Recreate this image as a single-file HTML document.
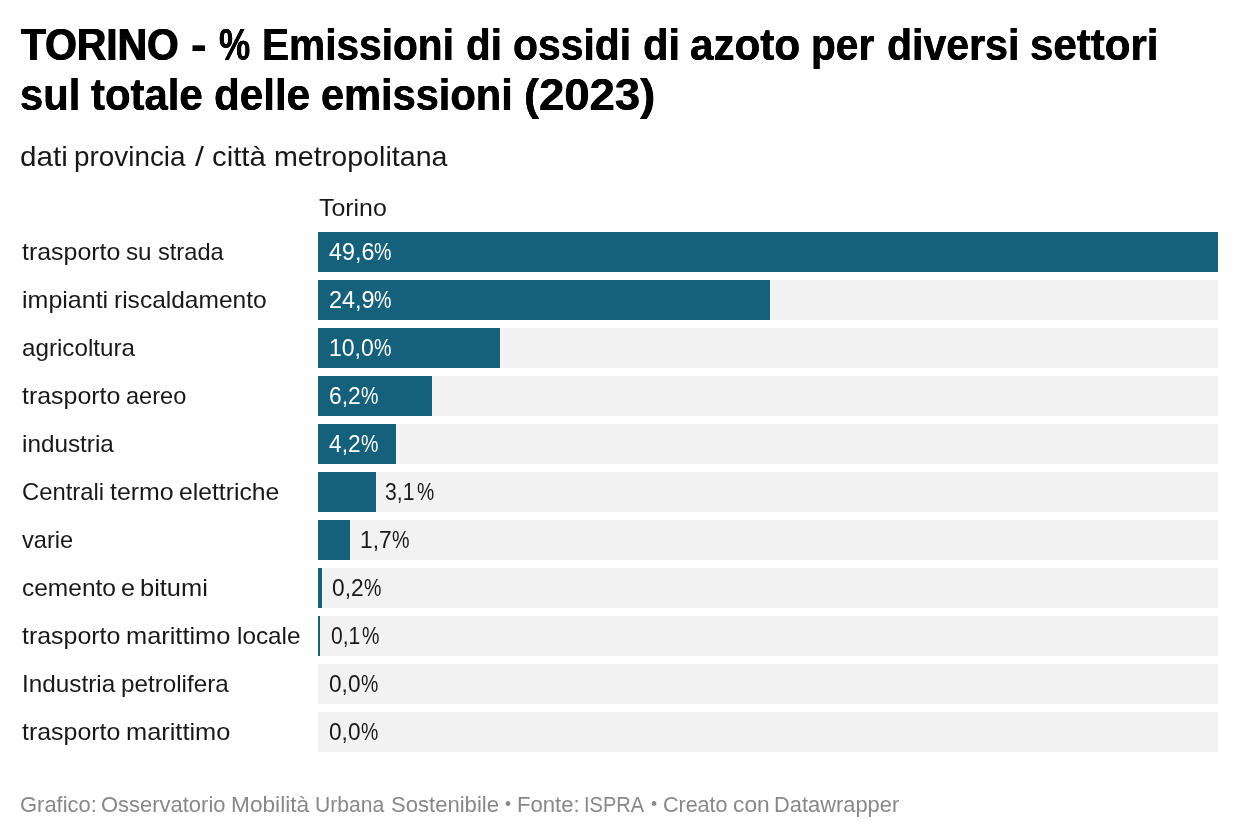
<!DOCTYPE html>
<html lang="it"><head><meta charset="utf-8"><title>TORINO - % Emissioni di ossidi di azoto per diversi settori</title>
<style>
html,body{margin:0;padding:0;background:#fff;}
h1{margin:0;font-size:inherit;font-weight:inherit;}
body{width:1240px;height:838px;position:relative;overflow:hidden;font-family:"Liberation Sans",sans-serif;}
.l{position:absolute;left:0;width:1240px;white-space:nowrap;margin:0;font-weight:400;}
.l span{position:absolute;top:0;transform-origin:0 50%;display:block;}
.bg{position:absolute;left:318px;width:900px;height:40px;background:#f2f2f2;}
.bar{position:absolute;left:0;top:0;height:40px;background:#15607a;}
</style></head><body>

<h1><div class="l" id="title1" style="top:18.41px;height:54px;font-size:45px;line-height:54px;color:#000;font-weight:700;"><span style="left:21.19px;text-shadow:0.6px 0 0 currentColor,-0.6px 0 0 currentColor;transform:scaleX(0.9059)">TORINO</span> <span style="left:190.98px;text-shadow:0.3px 0 0 currentColor,-0.3px 0 0 currentColor;transform:scaleX(1.0394)">-</span> <span style="left:219.07px;text-shadow:0.3px 0 0 currentColor,-0.3px 0 0 currentColor;transform:scaleX(0.7800)">%</span> <span style="left:261.85px;text-shadow:0.3px 0 0 currentColor,-0.3px 0 0 currentColor;transform:scaleX(0.9030)">Emissioni</span> <span style="left:466.41px;text-shadow:0.3px 0 0 currentColor,-0.3px 0 0 currentColor;transform:scaleX(0.8971)">di</span> <span style="left:513.48px;text-shadow:0.3px 0 0 currentColor,-0.3px 0 0 currentColor;transform:scaleX(0.9086)">ossidi</span> <span style="left:642.57px;text-shadow:0.3px 0 0 currentColor,-0.3px 0 0 currentColor;transform:scaleX(0.9252)">di</span> <span style="left:690.05px;text-shadow:0.3px 0 0 currentColor,-0.3px 0 0 currentColor;transform:scaleX(0.9373)">azoto</span> <span style="left:810.59px;text-shadow:0.3px 0 0 currentColor,-0.3px 0 0 currentColor;transform:scaleX(0.9033)">per</span> <span style="left:887.19px;text-shadow:0.3px 0 0 currentColor,-0.3px 0 0 currentColor;transform:scaleX(0.9122)">diversi</span> <span style="left:1029.6px;text-shadow:0.3px 0 0 currentColor,-0.3px 0 0 currentColor;transform:scaleX(0.9343)">settori</span></div>
<div class="l" id="title2" style="top:68.41px;height:54px;font-size:45px;line-height:54px;color:#000;font-weight:700;"><span style="left:19.81px;text-shadow:0.3px 0 0 currentColor,-0.3px 0 0 currentColor;transform:scaleX(0.9269)">sul</span> <span style="left:91.07px;text-shadow:0.3px 0 0 currentColor,-0.3px 0 0 currentColor;transform:scaleX(0.9306)">totale</span> <span style="left:214.15px;text-shadow:0.3px 0 0 currentColor,-0.3px 0 0 currentColor;transform:scaleX(0.9372)">delle</span> <span style="left:320.55px;text-shadow:0.3px 0 0 currentColor,-0.3px 0 0 currentColor;transform:scaleX(0.9236)">emissioni</span> <span style="left:523.74px;text-shadow:0.3px 0 0 currentColor,-0.3px 0 0 currentColor;transform:scaleX(1.0088)">(2023)</span></div></h1>
<p class="l" id="sub" style="top:140.3px;height:34px;font-size:28px;line-height:34px;color:#181818;"><span style="left:19.66px;transform:scaleX(1.0575)">dati</span> <span style="left:73.8px;transform:scaleX(0.9950)">provincia</span> <span style="left:195.23px;transform:scaleX(1.1500)">/</span> <span style="left:212.45px;transform:scaleX(1.0486)">città</span> <span style="left:273.8px;transform:scaleX(1.0227)">metropolitana</span></p>
<div class="l" id="head" style="top:193.18px;height:29px;font-size:24px;line-height:29px;color:#181818;"><span style="left:319.04px;transform:scaleX(1.0373)">Torino</span></div>
<div class="bg" style="top:232px"><div class="bar" style="width:900px"></div></div>
<div class="l" id="lab0" style="top:237.18px;height:29px;font-size:24px;line-height:29px;color:#181818;"><span style="left:21.72px;transform:scaleX(1.0381)">trasporto</span> <span style="left:126.23px;transform:scaleX(1.0093)">su</span> <span style="left:158.04px;transform:scaleX(0.9843)">strada</span></div>
<div class="l" id="val0" style="top:237.41px;height:30px;font-size:24.8px;line-height:30px;color:#fff;"><span style="left:328.67px;transform:scaleX(0.9397)">49,6</span><span style="left:374.2px;transform:scaleX(0.7888)">%</span></div>
<div class="bg" style="top:280px"><div class="bar" style="width:452px"></div></div>
<div class="l" id="lab1" style="top:285.18px;height:29px;font-size:24px;line-height:29px;color:#181818;"><span style="left:22.03px;transform:scaleX(1.0418)">impianti</span> <span style="left:113.97px;transform:scaleX(1.0218)">riscaldamento</span></div>
<div class="l" id="val1" style="top:285.41px;height:30px;font-size:24.8px;line-height:30px;color:#fff;"><span style="left:328.52px;transform:scaleX(0.9445)">24,9</span><span style="left:374.2px;transform:scaleX(0.7888)">%</span></div>
<div class="bg" style="top:328px"><div class="bar" style="width:182px"></div></div>
<div class="l" id="lab2" style="top:333.18px;height:29px;font-size:24px;line-height:29px;color:#181818;"><span style="left:21.97px;transform:scaleX(1.0078)">agricoltura</span></div>
<div class="l" id="val2" style="top:333.41px;height:30px;font-size:24.8px;line-height:30px;color:#fff;"><span style="left:329.15px;transform:scaleX(0.9271)">10,0</span><span style="left:374.2px;transform:scaleX(0.7888)">%</span></div>
<div class="bg" style="top:376px"><div class="bar" style="width:114px"></div></div>
<div class="l" id="lab3" style="top:381.18px;height:29px;font-size:24px;line-height:29px;color:#181818;"><span style="left:21.72px;transform:scaleX(1.0381)">trasporto</span> <span style="left:126px;transform:scaleX(0.9822)">aereo</span></div>
<div class="l" id="val3" style="top:381.41px;height:30px;font-size:24.8px;line-height:30px;color:#fff;"><span style="left:328.74px;transform:scaleX(0.9196)">6,2</span><span style="left:360.7px;transform:scaleX(0.7888)">%</span></div>
<div class="bg" style="top:424px"><div class="bar" style="width:78px"></div></div>
<div class="l" id="lab4" style="top:429.18px;height:29px;font-size:24px;line-height:29px;color:#181818;"><span style="left:21.97px;transform:scaleX(1.0122)">industria</span></div>
<div class="l" id="val4" style="top:429.41px;height:30px;font-size:24.8px;line-height:30px;color:#fff;"><span style="left:328.88px;transform:scaleX(0.9155)">4,2</span><span style="left:360.7px;transform:scaleX(0.7888)">%</span></div>
<div class="bg" style="top:472px"><div class="bar" style="width:58px"></div></div>
<div class="l" id="lab5" style="top:477.18px;height:29px;font-size:24px;line-height:29px;color:#181818;"><span style="left:21.99px;transform:scaleX(0.9929)">Centrali</span> <span style="left:109.52px;transform:scaleX(1.0371)">termo</span> <span style="left:178.65px;transform:scaleX(1.0294)">elettriche</span></div>
<div class="l" id="val5" style="top:477.41px;height:30px;font-size:24.8px;line-height:30px;color:#181818;"><span style="left:385.24px;transform:scaleX(0.8524)">3,1</span><span style="left:417.1px;transform:scaleX(0.7800)">%</span></div>
<div class="bg" style="top:520px"><div class="bar" style="width:32px"></div></div>
<div class="l" id="lab6" style="top:525.18px;height:29px;font-size:24px;line-height:29px;color:#181818;"><span style="left:22.22px;transform:scaleX(0.9848)">varie</span></div>
<div class="l" id="val6" style="top:525.41px;height:30px;font-size:24.8px;line-height:30px;color:#181818;"><span style="left:359.77px;transform:scaleX(0.9158)">1,7</span><span style="left:391.5px;transform:scaleX(0.7938)">%</span></div>
<div class="bg" style="top:568px"><div class="bar" style="width:4px"></div></div>
<div class="l" id="lab7" style="top:573.18px;height:29px;font-size:24px;line-height:29px;color:#181818;"><span style="left:21.86px;transform:scaleX(1.0208)">cemento</span> <span style="left:120.93px;transform:scaleX(1.0478)">e</span> <span style="left:140.26px;transform:scaleX(1.0599)">bitumi</span></div>
<div class="l" id="val7" style="top:573.41px;height:30px;font-size:24.8px;line-height:30px;color:#181818;"><span style="left:332.16px;transform:scaleX(0.9160)">0,2</span><span style="left:364.1px;transform:scaleX(0.7888)">%</span></div>
<div class="bg" style="top:616px"><div class="bar" style="width:2px"></div></div>
<div class="l" id="lab8" style="top:621.18px;height:29px;font-size:24px;line-height:29px;color:#181818;"><span style="left:21.72px;transform:scaleX(1.0381)">trasporto</span> <span style="left:125.71px;transform:scaleX(1.0576)">marittimo</span> <span style="left:236.56px;transform:scaleX(1.0129)">locale</span></div>
<div class="l" id="val8" style="top:621.41px;height:30px;font-size:24.8px;line-height:30px;color:#181818;"><span style="left:330.58px;transform:scaleX(0.8515)">0,1</span><span style="left:362.4px;transform:scaleX(0.7888)">%</span></div>
<div class="bg" style="top:664px"></div>
<div class="l" id="lab9" style="top:669.18px;height:29px;font-size:24px;line-height:29px;color:#181818;"><span style="left:21.56px;transform:scaleX(1.0118)">Industria</span> <span style="left:121.44px;transform:scaleX(1.0088)">petrolifera</span></div>
<div class="l" id="val9" style="top:669.41px;height:30px;font-size:24.8px;line-height:30px;color:#181818;"><span style="left:328.92px;transform:scaleX(0.9128)">0,0</span><span style="left:360.91px;transform:scaleX(0.7839)">%</span></div>
<div class="bg" style="top:712px"></div>
<div class="l" id="lab10" style="top:717.18px;height:29px;font-size:24px;line-height:29px;color:#181818;"><span style="left:21.72px;transform:scaleX(1.0381)">trasporto</span> <span style="left:125.71px;transform:scaleX(1.0576)">marittimo</span></div>
<div class="l" id="val10" style="top:717.41px;height:30px;font-size:24.8px;line-height:30px;color:#181818;"><span style="left:328.92px;transform:scaleX(0.9128)">0,0</span><span style="left:360.91px;transform:scaleX(0.7839)">%</span></div>
<p class="l" id="foot" style="top:790.7px;height:27px;font-size:22.5px;line-height:27px;color:#888;"><span style="left:20.15px;transform:scaleX(0.9757)">Grafico:</span> <span style="left:100.96px;transform:scaleX(0.9759)">Osservatorio</span> <span style="left:230.64px;transform:scaleX(1.0075)">Mobilità</span> <span style="left:315.37px;transform:scaleX(0.9367)">Urbana</span> <span style="left:391px;transform:scaleX(0.9810)">Sostenibile</span> <span style="left:504.91px;font-size:19px;top:-1.2px;transform:scaleX(0.9128)">•</span> <span style="left:516.94px;transform:scaleX(0.9810)">Fonte:</span> <span style="left:583.65px;transform:scaleX(0.8907)">ISPRA</span> <span style="left:650.51px;font-size:19px;top:-1.2px;transform:scaleX(0.9128)">•</span> <span style="left:662.66px;transform:scaleX(0.9550)">Creato</span> <span style="left:732.78px;transform:scaleX(1.0115)">con</span> <span style="left:774.46px;transform:scaleX(0.9716)">Datawrapper</span></p>
</body></html>
